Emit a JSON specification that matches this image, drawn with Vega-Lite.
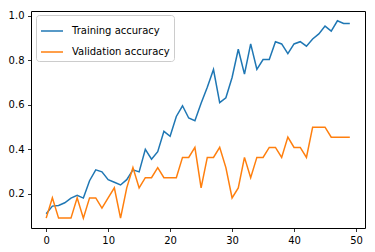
{
  "$schema": "https://vega.github.io/schema/vega-lite/v6.json",
  "autosize": "none",
  "width": 334,
  "height": 217,
  "padding": {"left": 31, "top": 11, "right": 10, "bottom": 24},
  "background": "white",
  "config": {
    "font": "DejaVu Sans",
    "view": {"stroke": "black", "strokeWidth": 1},
    "axis": {
      "grid": false,
      "domain": false,
      "tickColor": "black",
      "tickSize": 3.5,
      "tickWidth": 0.8,
      "labelColor": "black",
      "labelFont": "DejaVu Sans",
      "labelFontSize": 10,
      "labelPadding": 3.5,
      "title": null
    }
  },
  "data": {
    "values": [
      {"epoch": 0, "series": "Training accuracy", "acc": 0.111},
      {"epoch": 1, "series": "Training accuracy", "acc": 0.145},
      {"epoch": 2, "series": "Training accuracy", "acc": 0.148},
      {"epoch": 3, "series": "Training accuracy", "acc": 0.16},
      {"epoch": 4, "series": "Training accuracy", "acc": 0.181},
      {"epoch": 5, "series": "Training accuracy", "acc": 0.193},
      {"epoch": 6, "series": "Training accuracy", "acc": 0.181},
      {"epoch": 7, "series": "Training accuracy", "acc": 0.259},
      {"epoch": 8, "series": "Training accuracy", "acc": 0.308},
      {"epoch": 9, "series": "Training accuracy", "acc": 0.299},
      {"epoch": 10, "series": "Training accuracy", "acc": 0.264},
      {"epoch": 11, "series": "Training accuracy", "acc": 0.252},
      {"epoch": 12, "series": "Training accuracy", "acc": 0.24},
      {"epoch": 13, "series": "Training accuracy", "acc": 0.264},
      {"epoch": 14, "series": "Training accuracy", "acc": 0.308},
      {"epoch": 15, "series": "Training accuracy", "acc": 0.299},
      {"epoch": 16, "series": "Training accuracy", "acc": 0.4},
      {"epoch": 17, "series": "Training accuracy", "acc": 0.356},
      {"epoch": 18, "series": "Training accuracy", "acc": 0.39},
      {"epoch": 19, "series": "Training accuracy", "acc": 0.481},
      {"epoch": 20, "series": "Training accuracy", "acc": 0.459},
      {"epoch": 21, "series": "Training accuracy", "acc": 0.548},
      {"epoch": 22, "series": "Training accuracy", "acc": 0.596},
      {"epoch": 23, "series": "Training accuracy", "acc": 0.541},
      {"epoch": 24, "series": "Training accuracy", "acc": 0.529},
      {"epoch": 25, "series": "Training accuracy", "acc": 0.607},
      {"epoch": 26, "series": "Training accuracy", "acc": 0.679},
      {"epoch": 27, "series": "Training accuracy", "acc": 0.759},
      {"epoch": 28, "series": "Training accuracy", "acc": 0.61},
      {"epoch": 29, "series": "Training accuracy", "acc": 0.632},
      {"epoch": 30, "series": "Training accuracy", "acc": 0.723},
      {"epoch": 31, "series": "Training accuracy", "acc": 0.85},
      {"epoch": 32, "series": "Training accuracy", "acc": 0.738},
      {"epoch": 33, "series": "Training accuracy", "acc": 0.874},
      {"epoch": 34, "series": "Training accuracy", "acc": 0.76},
      {"epoch": 35, "series": "Training accuracy", "acc": 0.804},
      {"epoch": 36, "series": "Training accuracy", "acc": 0.804},
      {"epoch": 37, "series": "Training accuracy", "acc": 0.884},
      {"epoch": 38, "series": "Training accuracy", "acc": 0.874},
      {"epoch": 39, "series": "Training accuracy", "acc": 0.83},
      {"epoch": 40, "series": "Training accuracy", "acc": 0.874},
      {"epoch": 41, "series": "Training accuracy", "acc": 0.884},
      {"epoch": 42, "series": "Training accuracy", "acc": 0.864},
      {"epoch": 43, "series": "Training accuracy", "acc": 0.896},
      {"epoch": 44, "series": "Training accuracy", "acc": 0.919},
      {"epoch": 45, "series": "Training accuracy", "acc": 0.954},
      {"epoch": 46, "series": "Training accuracy", "acc": 0.932},
      {"epoch": 47, "series": "Training accuracy", "acc": 0.978},
      {"epoch": 48, "series": "Training accuracy", "acc": 0.966},
      {"epoch": 49, "series": "Training accuracy", "acc": 0.966},
      {"epoch": 0, "series": "Validation accuracy", "acc": 0.091},
      {"epoch": 1, "series": "Validation accuracy", "acc": 0.182},
      {"epoch": 2, "series": "Validation accuracy", "acc": 0.091},
      {"epoch": 3, "series": "Validation accuracy", "acc": 0.091},
      {"epoch": 4, "series": "Validation accuracy", "acc": 0.091},
      {"epoch": 5, "series": "Validation accuracy", "acc": 0.182},
      {"epoch": 6, "series": "Validation accuracy", "acc": 0.091},
      {"epoch": 7, "series": "Validation accuracy", "acc": 0.182},
      {"epoch": 8, "series": "Validation accuracy", "acc": 0.182},
      {"epoch": 9, "series": "Validation accuracy", "acc": 0.136},
      {"epoch": 10, "series": "Validation accuracy", "acc": 0.182},
      {"epoch": 11, "series": "Validation accuracy", "acc": 0.227},
      {"epoch": 12, "series": "Validation accuracy", "acc": 0.091},
      {"epoch": 13, "series": "Validation accuracy", "acc": 0.227},
      {"epoch": 14, "series": "Validation accuracy", "acc": 0.318},
      {"epoch": 15, "series": "Validation accuracy", "acc": 0.227},
      {"epoch": 16, "series": "Validation accuracy", "acc": 0.273},
      {"epoch": 17, "series": "Validation accuracy", "acc": 0.273},
      {"epoch": 18, "series": "Validation accuracy", "acc": 0.318},
      {"epoch": 19, "series": "Validation accuracy", "acc": 0.273},
      {"epoch": 20, "series": "Validation accuracy", "acc": 0.273},
      {"epoch": 21, "series": "Validation accuracy", "acc": 0.273},
      {"epoch": 22, "series": "Validation accuracy", "acc": 0.364},
      {"epoch": 23, "series": "Validation accuracy", "acc": 0.364},
      {"epoch": 24, "series": "Validation accuracy", "acc": 0.409},
      {"epoch": 25, "series": "Validation accuracy", "acc": 0.227},
      {"epoch": 26, "series": "Validation accuracy", "acc": 0.364},
      {"epoch": 27, "series": "Validation accuracy", "acc": 0.364},
      {"epoch": 28, "series": "Validation accuracy", "acc": 0.409},
      {"epoch": 29, "series": "Validation accuracy", "acc": 0.318},
      {"epoch": 30, "series": "Validation accuracy", "acc": 0.182},
      {"epoch": 31, "series": "Validation accuracy", "acc": 0.227},
      {"epoch": 32, "series": "Validation accuracy", "acc": 0.364},
      {"epoch": 33, "series": "Validation accuracy", "acc": 0.273},
      {"epoch": 34, "series": "Validation accuracy", "acc": 0.364},
      {"epoch": 35, "series": "Validation accuracy", "acc": 0.364},
      {"epoch": 36, "series": "Validation accuracy", "acc": 0.409},
      {"epoch": 37, "series": "Validation accuracy", "acc": 0.409},
      {"epoch": 38, "series": "Validation accuracy", "acc": 0.364},
      {"epoch": 39, "series": "Validation accuracy", "acc": 0.455},
      {"epoch": 40, "series": "Validation accuracy", "acc": 0.409},
      {"epoch": 41, "series": "Validation accuracy", "acc": 0.409},
      {"epoch": 42, "series": "Validation accuracy", "acc": 0.364},
      {"epoch": 43, "series": "Validation accuracy", "acc": 0.5},
      {"epoch": 44, "series": "Validation accuracy", "acc": 0.5},
      {"epoch": 45, "series": "Validation accuracy", "acc": 0.5},
      {"epoch": 46, "series": "Validation accuracy", "acc": 0.455},
      {"epoch": 47, "series": "Validation accuracy", "acc": 0.455},
      {"epoch": 48, "series": "Validation accuracy", "acc": 0.455},
      {"epoch": 49, "series": "Validation accuracy", "acc": 0.455}
    ]
  },
  "mark": {"type": "line", "strokeWidth": 1.5, "clip": true},
  "encoding": {
    "x": {
      "field": "epoch",
      "type": "quantitative",
      "scale": {"domain": [-2.45, 51.45], "nice": false, "zero": false},
      "axis": {"values": [0, 10, 20, 30, 40, 50], "format": "d"}
    },
    "y": {
      "field": "acc",
      "type": "quantitative",
      "scale": {"domain": [0.0466, 1.022], "nice": false, "zero": false},
      "axis": {"values": [0.2, 0.4, 0.6, 0.8, 1.0], "format": ".1f"}
    },
    "color": {
      "field": "series",
      "type": "nominal",
      "scale": {"domain": ["Training accuracy", "Validation accuracy"], "range": ["#1f77b4", "#ff7f0e"]},
      "legend": {
        "title": null,
        "orient": "none",
        "legendX": 5,
        "legendY": 4,
        "symbolType": "stroke",
        "symbolSize": 484,
        "symbolStrokeWidth": 1.5,
        "labelFont": "DejaVu Sans",
        "labelFontSize": 10,
        "labelColor": "black",
        "labelOffset": 8,
        "rowPadding": 4,
        "padding": 4,
        "fillColor": "white",
        "strokeColor": "#cccccc",
        "cornerRadius": 3
      }
    }
  }
}
